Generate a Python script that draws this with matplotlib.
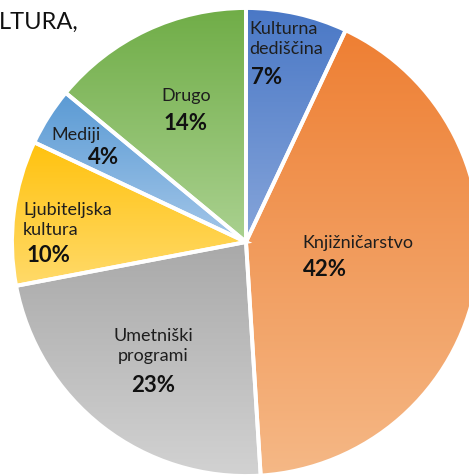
import numpy as np
import matplotlib
matplotlib.use("Agg")
import matplotlib.pyplot as plt
from matplotlib.colors import LinearSegmentedColormap

plt.rcParams['font.family'] = ['Lato', 'DejaVu Sans']

# data
labels = ["Kulturna\ndediščina", "Knjižničarstvo", "Umetniški\nprogrami",
          "Ljubiteljska\nkultura", "Mediji", "Drugo"]
shares = [7, 42, 23, 10, 4, 14]
# gradient colours, top -> bottom
top_cols = ["#4a78c6", "#ee7f33", "#a9a9a9", "#ffc20e", "#5a9ad4", "#70ad47"]
bot_cols = ["#86a5da", "#f5b886", "#d2d2d2", "#ffda6a", "#a4c7e9", "#aad190"]

W, H = 469, 475
fig = plt.figure(figsize=(W / 100, H / 100), dpi=100)
ax = fig.add_axes([0, 0, 1, 1])
ax.axis('off')

cx, cy, R = 246, H - 242, 234

wedges, _ = ax.pie(shares, startangle=90, counterclock=False,
                   center=(cx, cy), radius=R,
                   wedgeprops=dict(edgecolor='none'))

grad = np.linspace(0, 1, 256).reshape(-1, 1)
for w, c0, c1 in zip(wedges, top_cols, bot_cols):
    bb = w.get_path().get_extents(w.get_transform() - ax.transData)
    cmap = LinearSegmentedColormap.from_list("g", [c0, c1])
    im = ax.imshow(grad, cmap=cmap, aspect='auto',
                   extent=(bb.x0, bb.x1, bb.y0, bb.y1), zorder=2)
    im.set_clip_path(w)

# white borders on top
ax.pie(shares, startangle=90, counterclock=False, center=(cx, cy), radius=R,
       wedgeprops=dict(facecolor='none', edgecolor='white', linewidth=2.8,
                       zorder=3))

# labels (pixel coords from top)
lab_pos = [(249, 39, 'left'), (302, 243, 'left'), (153, 346, 'center'),
           (23, 220, 'left'), (51, 135, 'left'), (186, 96, 'center')]
pct_pos = [(251, 77, 'left'), (303, 270, 'left'), (153, 385, 'center'),
           (27, 256, 'left'), (88, 157, 'left'), (186, 123, 'center')]

for lab, s, (lx, ly, ha), (px, py, pha) in zip(labels, shares, lab_pos, pct_pos):
    ax.text(lx, H - ly, lab, ha=ha, va='center', fontsize=13,
            color='#1e1e1e', linespacing=1.3, zorder=4)
    ax.text(px, H - py, f"{s}%", ha=pha, va='center', fontsize=16,
            fontweight='bold', color='#111111', zorder=4)

ax.text(-1, H - 22, "LTURA,", ha='left', va='center', fontsize=17,
        color='#111111', zorder=4)

ax.set_xlim(0, W)
ax.set_ylim(0, H)
ax.set_aspect('auto')

fig.savefig("out.png", dpi=100)
